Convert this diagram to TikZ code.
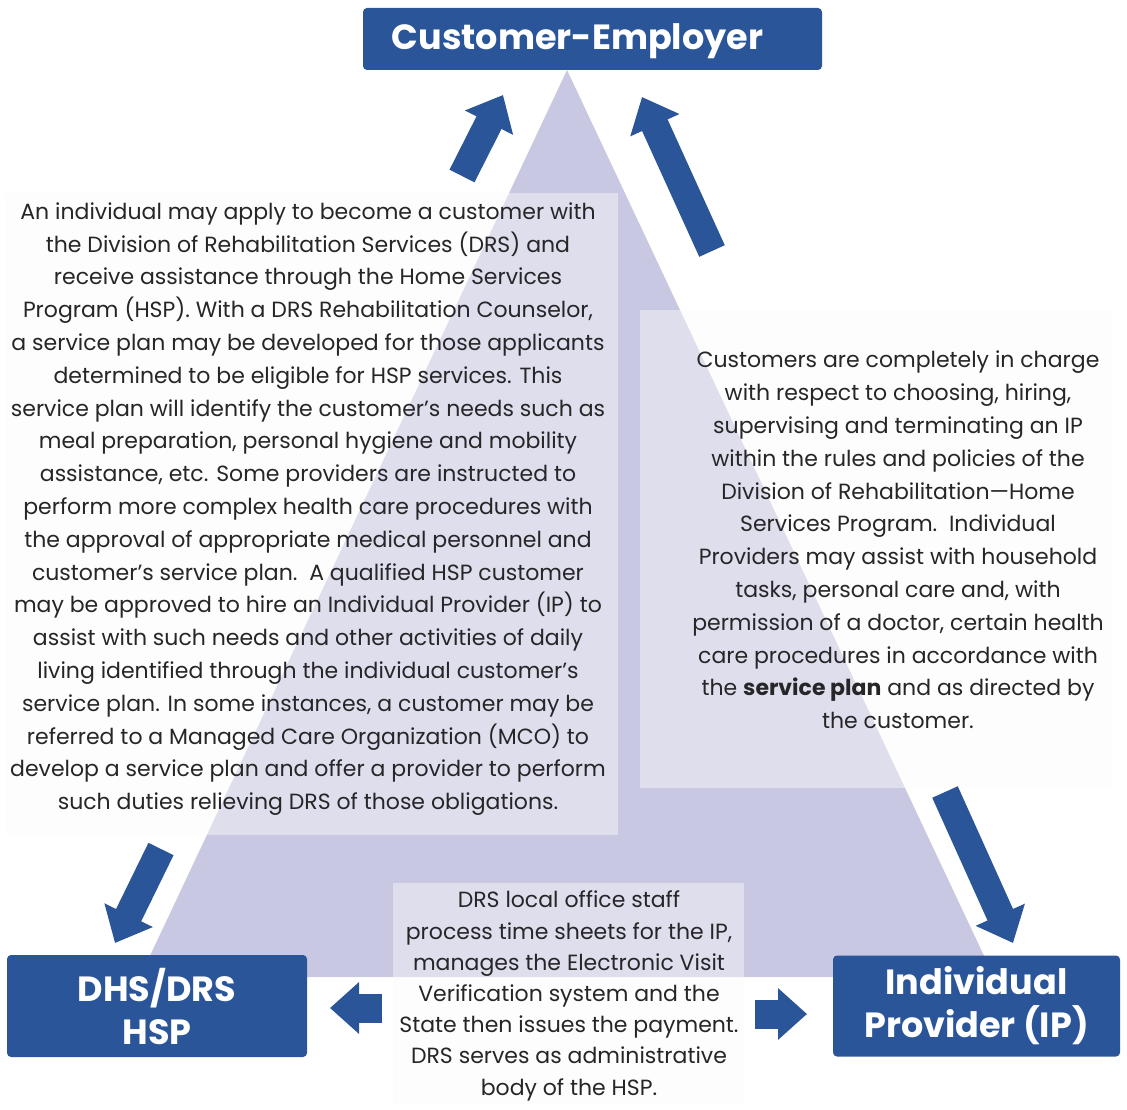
\documentclass[tikz,border=0pt]{standalone}
\usepackage{fontspec}
\setmainfont{Poppins}
\usepackage{xcolor}
\usetikzlibrary{arrows.meta}
\definecolor{hspblue}{RGB}{42,85,152}
\definecolor{pyramid}{RGB}{201,200,226}
\definecolor{panelwhite}{RGB}{250,250,252}
\definecolor{bodygray}{RGB}{38,38,40}

\begin{document}
\begin{tikzpicture}[x=1pt, y=-1pt,
  rolebox/.style={fill=hspblue, rounded corners=4pt, inner sep=0pt},
  roletext/.style={text=white, align=center, inner sep=0pt, font=\fontsize{35}{43}\selectfont\bfseries},
  panel/.style={fill=panelwhite, fill opacity=0.45},
  blurb/.style={text=bodygray, align=center, inner sep=0pt, font=\fontsize{22}{32.8}\selectfont},
  flow/.style={draw=hspblue, line width=28pt, -{Triangle[length=31pt, width=52pt]}},
  sideflow/.style={draw=hspblue, line width=29pt, -{Triangle[length=29pt, width=50pt]}}
]
\useasboundingbox (0,0) rectangle (1127,1110);

% background triangle and the three text panels
\fill[pyramid] (567,70) -- (140,977) -- (994,977) -- cycle;
\fill[panel] (5,193) rectangle (618,835);
\fill[panel] (640,310) rectangle (1112,788);
\fill[panel] (393,883) rectangle (744,1105);

% the three parties
\node[rolebox, minimum width=459pt, minimum height=62pt] (emp) at (592.5,39) {};
\node[roletext] (emptxt) at ([xshift=-15pt, yshift=-2pt]emp.center) {Customer-Employer};
\node[rolebox, roletext, minimum width=300pt, minimum height=102pt] (dhs) at (157,1006) {DHS/DRS\\HSP};
\node[rolebox, roletext, minimum width=287pt, minimum height=101pt] (ip) at (976.5,1006) {Individual\\Provider (IP)};

\node[blurb] (apply) at (308,509) {An individual may apply to become a customer with\\
the Division of Rehabilitation Services (DRS) and\\
receive assistance through the Home Services\\
Program (HSP). With a DRS Rehabilitation Counselor,\\
a service plan may be developed for those applicants\\
determined to be eligible for HSP services. This\\
service plan will identify the customer's needs such as\\
meal preparation, personal hygiene and mobility\\
assistance, etc. Some providers are instructed to\\
perform more complex health care procedures with\\
the approval of appropriate medical personnel and\\
customer's service plan.\ \ A qualified HSP customer\\
may be approved to hire an Individual Provider (IP) to\\
assist with such needs and other activities of daily\\
living identified through the individual customer's\\
service plan. In some instances, a customer may be\\
referred to a Managed Care Organization (MCO) to\\
develop a service plan and offer a provider to perform\\
such duties relieving DRS of those obligations.};

\node[blurb] (charge) at (898,540) {Customers are completely in charge\\
with respect to choosing, hiring,\\
supervising and terminating an IP\\
within the rules and policies of the\\
Division of Rehabilitation---Home\\
Services Program.\ \ Individual\\
Providers may assist with household\\
tasks, personal care and, with\\
permission of a doctor, certain health\\
care procedures in accordance with\\
the \textbf{service plan} and as directed by\\
the customer.};

\node[blurb, font=\fontsize{22}{31.2}\selectfont] (office) at (569,996) {DRS local office staff\\
process time sheets for the IP,\\
manages the Electronic Visit\\
Verification system and the\\
State then issues the payment.\\
DRS serves as administrative\\
body of the HSP.};

% arrow ends
\coordinate (up1) at (462,176);
\coordinate (up1end) at (503,95);
\coordinate (up2) at (712,251);
\coordinate (up2end) at (642,97);
\coordinate (dn1) at (161,849);
\coordinate (dn1end) at (115,943);
\coordinate (dn2) at (945,792);
\coordinate (dn2end) at (1013,943);
\coordinate (lt) at (382,1008);
\coordinate (ltend) at (330,1008);
\coordinate (rt) at (755,1014);
\coordinate (rtend) at (807,1014);

\draw[flow] (up1) -- (up1end);
\draw[flow] (up2) -- (up2end);
\draw[flow] (dn1) -- (dn1end);
\draw[flow] (dn2) -- (dn2end);
\draw[sideflow] (lt) -- (ltend);
\draw[sideflow] (rt) -- (rtend);

\end{tikzpicture}
\end{document}
